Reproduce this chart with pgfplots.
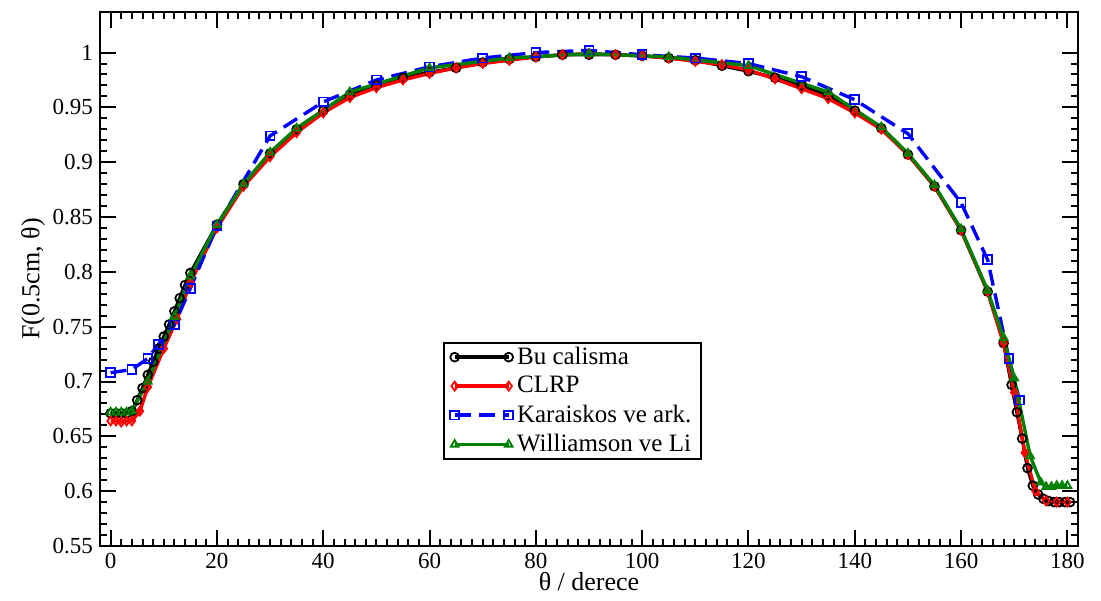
\documentclass[border=0pt]{standalone}
\usepackage{fontspec}
\setmainfont{Liberation Serif}
\usepackage{pgfplots}
\pgfplotsset{compat=1.18}

\begin{document}
\begin{tikzpicture}
  \begin{axis}[
      scale only axis,
      width = 489pt,
      height = 267pt,
      xmin = -2, xmax = 182,
      ymin = 0.55, ymax = 1.037,
      xtick = {0,20,...,180},
      ytick = {0.55,0.6,...,1.01},
      minor x tick num = 9,
      minor y tick num = 4,
      major tick length = 8pt,
      minor tick length = 3.5pt,
      every tick/.style = {black, line width=1pt},
      axis line style = {line width=1.3pt},
      tick label style = {font=\fontsize{11.5}{13}\selectfont},
      /pgf/number format/fixed,
      /pgf/number format/assume math mode=true,
      xlabel = {θ / derece},
      ylabel = {F(0.5cm, θ)},
      label style = {font=\fontsize{13}{14}\selectfont},
      xlabel style = {yshift=5pt},
      ylabel style = {yshift=-3pt},
      legend style = {at={(0.351,0.382)}, anchor=north west,
                      font=\fontsize{12.5}{13}\selectfont,
                      draw=black, line width=1pt,
                      inner xsep=3pt, inner ysep=0pt,
                      row sep=0.5pt},
      legend cell align = left,
      legend image code/.code={
        \draw[#1] plot coordinates {(0pt,0pt) (27pt,0pt)};
      },
      every axis plot/.append style = {line width=1.7pt, mark size=2.2pt},
    ]
    % Bu calisma
    \addplot[color=black, mark=o, mark options={solid, line width=0.9pt}] coordinates {
      (0,0.671) (1,0.671) (2,0.671) (3,0.671) (4,0.673) (5,0.683) (6,0.694)
      (7,0.706) (8,0.718) (9,0.730) (10,0.741) (11,0.752) (12,0.764)
      (13,0.776) (14,0.788) (15,0.799) (20,0.843) (25,0.880) (30,0.908)
      (35,0.930) (40,0.947) (45,0.961) (50,0.970) (55,0.977) (60,0.982)
      (65,0.986) (70,0.991) (75,0.994) (80,0.996) (85,0.998) (90,0.998)
      (95,0.998) (100,0.997) (105,0.995) (110,0.993) (115,0.988)
      (120,0.983) (125,0.977) (130,0.970) (135,0.961) (140,0.947)
      (145,0.931) (150,0.907) (155,0.878) (160,0.838) (165,0.782)
      (168,0.735) (169.5,0.697) (170.5,0.672) (171.5,0.648) (172.5,0.621)
      (173.5,0.605) (174.5,0.597) (175.5,0.593) (176.5,0.591) (177.5,0.590)
      (178.5,0.590) (179.5,0.590) (180.5,0.590)
    };
    \addlegendentry{Bu calisma}

    % CLRP
    \addplot[color=red, mark=diamond, mark options={solid, line width=0.9pt}] coordinates {
      (0,0.664) (1,0.664) (2,0.663) (3,0.664) (4,0.664) (5.5,0.673)
      (7,0.695) (10,0.730) (12.5,0.757) (15,0.790) (20,0.840) (25,0.878)
      (30,0.905) (35,0.927) (40,0.945) (45,0.959) (50,0.968) (55,0.975)
      (60,0.981) (65,0.986) (70,0.990) (75,0.993) (80,0.996) (85,0.998)
      (90,0.999) (95,0.998) (100,0.997) (105,0.995) (110,0.992)
      (115,0.989) (120,0.984) (125,0.976) (130,0.967) (135,0.958)
      (140,0.945) (145,0.930) (150,0.907) (155,0.878) (160,0.838)
      (165,0.782) (168,0.735) (170,0.690) (172,0.635) (174,0.600)
      (176,0.591) (178,0.590) (180,0.590)
    };
    \addlegendentry{CLRP}

    % Karaiskos ve ark.
    \addplot[color=blue, dash pattern=on 8pt off 4pt, mark=square,
             mark options={solid, line width=0.9pt}] coordinates {
      (0,0.708) (4,0.711) (7,0.721) (9,0.734) (12,0.752) (15,0.785)
      (20,0.842) (30,0.924) (40,0.955) (50,0.975) (60,0.987) (70,0.995)
      (80,1.000) (90,1.002) (100,0.998) (110,0.995) (120,0.990)
      (130,0.978) (140,0.957) (150,0.926) (160,0.863) (165,0.811)
      (169,0.721) (171,0.683)
    };
    \addlegendentry{Karaiskos ve ark.}

    % Williamson ve Li
    \addplot[color=green!50!black, mark=triangle, mark options={solid, line width=0.9pt}] coordinates {
      (0,0.672) (1,0.672) (2,0.672) (3,0.672) (4,0.673) (7,0.700)
      (12,0.759) (15,0.796) (20,0.843) (25,0.880) (30,0.909) (35,0.931)
      (45,0.964) (60,0.986) (75,0.995) (90,0.999) (105,0.996)
      (120,0.988) (135,0.964) (145,0.932) (150,0.908) (155,0.879)
      (160,0.839) (165,0.783) (168,0.740) (170,0.703) (173,0.632)
      (175,0.608) (176,0.604) (177,0.604) (178,0.605) (179,0.605)
      (180,0.605)
    };
    \addlegendentry{Williamson ve Li}
  \end{axis}
  \path (current axis.south west) ++(-50pt,-27.5pt) coordinate (bl);
  \path (current axis.north east) ++(11.5pt,6pt) coordinate (tr);
  \path (bl) rectangle (tr);
\end{tikzpicture}
\end{document}
